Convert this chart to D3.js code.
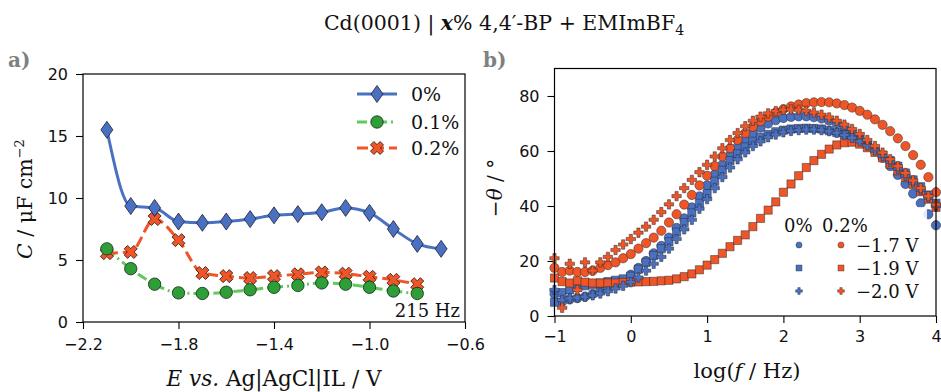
<!DOCTYPE html>
<html><head><meta charset="utf-8">
<script src="https://cdn.jsdelivr.net/npm/d3@7"></script>
<style>body{margin:0;background:#fff} svg{display:block}</style>
</head><body><svg id="c" width="941" height="392"></svg>
<script>
// ---------- Panel a data ----------
const potentialE = [-2.1,-2.0,-1.9,-1.8,-1.7,-1.6,-1.5,-1.4,-1.3,-1.2,-1.1,-1.0,-0.9,-0.8,-0.7];
const cap0  = [15.5,9.35,9.2,8.1,8.0,8.1,8.3,8.6,8.7,8.85,9.2,8.8,7.5,6.3,5.9];
const cap01 = [5.9,4.3,3.05,2.35,2.3,2.4,2.6,2.8,2.95,3.15,3.05,2.8,2.5,2.3];
const cap02 = [5.55,5.65,8.3,6.6,3.95,3.7,3.55,3.7,3.85,4.0,3.9,3.65,3.4,3.05];
const seriesA = ["0%","0.1%","0.2%"];
const aXTicks = [-2.2,-1.8,-1.4,-1.0,-0.6];
const aXTickLabels = ["\u22122.2","\u22121.8","\u22121.4","\u22121.0","\u22120.6"];
const aYTicks = [0,5,10,15,20];
const aYTickLabels = ["0","5","10","15","20"];

// ---------- Panel b data ----------
const logF = [-1.0,-0.9,-0.8,-0.7,-0.6,-0.5,-0.4,-0.3,-0.2,-0.1,0.0,0.1,0.2,0.3,0.4,0.5,0.6,0.7,0.8,0.9,
  1.0,1.1,1.2,1.3,1.4,1.5,1.6,1.7,1.8,1.9,2.0,2.1,2.2,2.3,2.4,2.5,2.6,2.7,2.8,2.9,
  3.0,3.1,3.2,3.3,3.4,3.5,3.6,3.7,3.8,3.9,4.0];
const theta0_17 = [8,5.2,6,6.5,7,8,9,10,11.5,13, 15,17.5,20,22.8,25.5,28.5,32,35.5,39.5,43.5,
  47.5,51.5,55,58.5,61.5,64.2,66.5,68.5,70,71.2, 72,72.4,72.6,72.6,72.3,71.8,71,70,68.7,67,
  65,62.8,60.3,57.5,54.5,51.3,48,44.5,41,37, 33];
const theta02_17 = [17.5,16,16.5,16,16,16.5,17.5,18.5,19.5,21, 22.5,24.5,26.5,28.5,31,34,37,40.5,44,47.5,
  51,54.5,58,61,64,66.5,68.8,70.8,72.5,74, 75.2,76.2,76.9,77.4,77.7,77.8,77.7,77.3,76.7,75.8,
  74.6,73.2,71.5,69.5,67.2,64.6,61.8,58.5,55,50.5, 45];
const theta0_19 = [5,8.5,9.5,10.5,11,11.5,12,12.5,13,13.5, 14.5,17,19.5,22,24.5,27,30.5,34,37.5,41,
  44.5,49,53,56.5,59,61.5,63.5,65,66,67, 67.6,68,68.2,68.3,68.2,68,67.4,66.7,66,65,
  63.8,62.5,60.5,58.5,56.5,54.5,52,49.5,47,44, 41];
const theta02_19 = [13.8,12.5,12,12.8,12.3,12,12,12,12,12.2, 12.3,12.4,12.5,12.6,12.8,13,13.5,14.3,15.3,16.8,
  18.5,20.5,22.8,25.2,27.5,29.5,32.5,35.5,38.5,41.5, 45,48,51,54,56.5,58.8,60.7,62.2,63,63.2,
  62.5,61.2,59.5,57.5,55.2,52.8,50.3,47.8,45.2,42.5, 39.5];
const theta0_20 = [9.5,5.8,6.4,6.7,7,7.5,8.2,9,10,11, 12.3,14,16.5,19,21.5,24.5,28,31.5,35,39,
  42.5,46.5,50.5,54,57,59.5,61.8,63.5,65,66, 66.8,67.3,67.6,67.8,67.8,67.6,67.2,66.6,65.8,64.8,
  63.5,62,60.2,58.2,56,53.5,51,48.5,45.8,43, 40];
const theta02_20 = [21,3,19,9.5,19.5,16.5,19.5,21.5,24,26, 28,30.3,32.5,35,37.8,40.6,43.6,46.5,49.5,52.3,
  55,58,61,64,66.5,69,71,72.5,73.7,74.5, 75,75.1,75,74.6,74,73.2,72.2,71,69.6,68,
  66.2,64,61.8,59.4,57,54.5,52,49.3,46.5,43.6, 40.5];
const potentialLabels = ["\u22121.7 V","\u22121.9 V","\u22122.0 V"];
const bXTicks = [-1,0,1,2,3,4];
const bXTickLabels = ["\u22121","0","1","2","3","4"];
const bYTicks = [0,20,40,60,80];
const bYTickLabels = ["0","20","40","60","80"];

// ---------- styles ----------
const BLUE = "#4a70c2", RED = "#f05528", GREEN_F = "#2e9e38", GREEN_L = "#62c95e";
const SERIF = "'DejaVu Serif', serif", SANS = "'DejaVu Sans', sans-serif";

const svg = d3.select("#c");
svg.append("rect").attr("width",941).attr("height",392).attr("fill","#fff");

// ---------- scales ----------
const xA = d3.scaleLinear().domain([-2.2,-0.6]).range([83,465]);
const yA = d3.scaleLinear().domain([0,20]).range([322,74]);
const xB = d3.scaleLinear().domain([-1,4]).range([554.5,936]);
const yB = d3.scaleLinear().domain([0,90]).range([316,68.5]);

function styleAxis(g){
  g.select(".domain").remove();
  g.selectAll(".tick line").attr("stroke","#000").attr("stroke-width",1.1);
  g.selectAll(".tick text").attr("font-family",SANS).attr("font-size",16).attr("fill","#111");
}

// ---------- marker shapes ----------
function plusPath(L,t){
  return `M${-t},${-L}L${t},${-L}L${t},${-t}L${L},${-t}L${L},${t}L${t},${t}L${t},${L}L${-t},${L}L${-t},${t}L${-L},${t}L${-L},${-t}L${-t},${-t}Z`;
}
const diamondPath = "M0,-8.5L6,0L0,8.5L-6,0Z";

// ================= Panel a =================
const gA = svg.append("g");
gA.append("g").attr("transform","translate(83,0)")
  .call(d3.axisLeft(yA).tickValues(aYTicks).tickFormat((d,i)=>aYTickLabels[i]).tickSize(7).tickPadding(8))
  .call(styleAxis);
gA.append("g").attr("transform","translate(0,322)")
  .call(d3.axisBottom(xA).tickValues(aXTicks).tickFormat((d,i)=>aXTickLabels[i]).tickSize(7).tickPadding(10))
  .call(styleAxis);

const lineA = (vals) => d3.line().x((d,i)=>xA(potentialE[i])).y(d=>yA(d)).curve(d3.curveMonotoneX)(vals);

gA.append("path").attr("d",lineA(cap0)).attr("fill","none").attr("stroke",BLUE).attr("stroke-width",3);
gA.append("path").attr("d",lineA(cap01)).attr("fill","none").attr("stroke",GREEN_L).attr("stroke-width",3)
  .attr("stroke-dasharray","10,4,2,4");
gA.append("path").attr("d",lineA(cap02)).attr("fill","none").attr("stroke",RED).attr("stroke-width",3)
  .attr("stroke-dasharray","11,5");

const xMarkA = plusPath(6.8,2.4);
gA.selectAll(".m02").data(cap02).join("path")
  .attr("d",xMarkA).attr("transform",(d,i)=>`translate(${xA(potentialE[i])},${yA(d)}) rotate(45)`)
  .attr("fill",RED).attr("stroke","#3a1a10").attr("stroke-width",0.8);
gA.selectAll(".m01").data(cap01).join("circle")
  .attr("cx",(d,i)=>xA(potentialE[i])).attr("cy",d=>yA(d)).attr("r",6.2)
  .attr("fill",GREEN_F).attr("stroke","#142a14").attr("stroke-width",0.8);
gA.selectAll(".m0").data(cap0).join("path")
  .attr("d",diamondPath).attr("transform",(d,i)=>`translate(${xA(potentialE[i])},${yA(d)})`)
  .attr("fill",BLUE).attr("stroke","#1a1f33").attr("stroke-width",0.8);

gA.append("rect").attr("x",83).attr("y",74).attr("width",382).attr("height",248)
  .attr("fill","none").attr("stroke","#000").attr("stroke-width",1.2);

// legend a
const legA = gA.append("g");
const legRowsA = [94,122,148];
[[BLUE,null,"d"],[GREEN_L,"10,4,2,4","c"],[RED,"11,5","x"]].forEach((s,i)=>{
  const y = legRowsA[i];
  legA.append("line").attr("x1",357).attr("x2",397).attr("y1",y).attr("y2",y)
    .attr("stroke",s[0]).attr("stroke-width",3).attr("stroke-dasharray",s[1]);
  if(s[2]==="d") legA.append("path").attr("d",diamondPath).attr("transform",`translate(377,${y})`)
      .attr("fill",BLUE).attr("stroke","#1a1f33").attr("stroke-width",0.8);
  if(s[2]==="c") legA.append("circle").attr("cx",377).attr("cy",y).attr("r",6.2)
      .attr("fill",GREEN_F).attr("stroke","#142a14").attr("stroke-width",0.8);
  if(s[2]==="x") legA.append("path").attr("d",xMarkA).attr("transform",`translate(377,${y}) rotate(45)`)
      .attr("fill",RED).attr("stroke","#3a1a10").attr("stroke-width",0.8);
  legA.append("text").attr("x",411).attr("y",y+7).text(seriesA[i])
    .attr("font-family",SERIF).attr("font-size",19).attr("fill","#111");
});
gA.append("text").attr("x",460).attr("y",317).attr("text-anchor","end").text("215 Hz")
  .attr("font-family",SERIF).attr("font-size",18).attr("fill","#111");

// axis labels a
const xla = gA.append("text").attr("x",274).attr("y",386).attr("text-anchor","middle")
  .attr("font-family",SERIF).attr("font-size",21.5).attr("fill","#111");
xla.append("tspan").attr("font-style","italic").text("E");
xla.append("tspan").text(" ");
xla.append("tspan").attr("font-style","italic").text("vs.");
xla.append("tspan").text(" Ag|AgCl|IL / V");
const yla = gA.append("text").attr("transform","translate(32,199) rotate(-90)").attr("text-anchor","middle")
  .attr("font-family",SERIF).attr("font-size",20.5).attr("fill","#111");
yla.append("tspan").attr("font-style","italic").text("C");
yla.append("tspan").text(" / \u03bcF cm");
yla.append("tspan").attr("font-size",13).attr("dy",-8).text("\u22122");

// ================= Panel b =================
const gB = svg.append("g");
gB.append("g").attr("transform","translate(554.5,0)")
  .call(d3.axisLeft(yB).tickValues(bYTicks).tickFormat((d,i)=>bYTickLabels[i]).tickSize(7).tickPadding(8))
  .call(styleAxis);
gB.append("g").attr("transform","translate(0,316)")
  .call(d3.axisBottom(xB).tickValues(bXTicks).tickFormat((d,i)=>bXTickLabels[i]).tickSize(7).tickPadding(8))
  .call(styleAxis);

const plusB = plusPath(4.7,1.6);
function scatter(vals,shape,color){
  const g = gB.append("g");
  const sel = g.selectAll("path").data(vals).join("path")
    .attr("fill",color).attr("stroke","#2a2a2a").attr("stroke-width",0.5)
    .attr("transform",(d,i)=>`translate(${xB(logF[i])},${yB(d)})`);
  if(shape==="circle") sel.attr("d",d3.symbol(d3.symbolCircle,68)());
  if(shape==="square") sel.attr("d","M-4.1,-4.1H4.1V4.1H-4.1Z");
  if(shape==="plus") sel.attr("d",plusB);
}
scatter(theta0_17,"circle",BLUE);
scatter(theta02_17,"circle",RED);
scatter(theta0_19,"square",BLUE);
scatter(theta02_19,"square",RED);
scatter(theta0_20,"plus",BLUE);
scatter(theta02_20,"plus",RED);

gB.append("rect").attr("x",554.5).attr("y",68.5).attr("width",381.5).attr("height",247.5)
  .attr("fill","none").attr("stroke","#000").attr("stroke-width",1.2);

// legend b
const legB = gB.append("g");
legB.append("rect").attr("x",777).attr("y",207).attr("width",150).attr("height",95)
  .attr("fill","#fff").attr("fill-opacity",0.85);
legB.append("text").attr("x",784).attr("y",232).text("0%")
  .attr("font-family",SERIF).attr("font-size",18).attr("fill","#111");
legB.append("text").attr("x",822).attr("y",232).text("0.2%")
  .attr("font-family",SERIF).attr("font-size",18).attr("fill","#111");
const legRowsB = [245,268,291];
["circle","square","plus"].forEach((sh,i)=>{
  const y = legRowsB[i];
  [[799,BLUE],[841,RED]].forEach(([x,c])=>{
    const p = legB.append("path").attr("transform",`translate(${x},${y})`)
      .attr("fill",c).attr("stroke","#2a2a2a").attr("stroke-width",0.4);
    if(sh==="circle") p.attr("d",d3.symbol(d3.symbolCircle,30)());
    if(sh==="square") p.attr("d","M-3,-3H3V3H-3Z");
    if(sh==="plus") p.attr("d",plusPath(3.4,1.2));
  });
  legB.append("text").attr("x",856).attr("y",y+7).text(potentialLabels[i])
    .attr("font-family",SERIF).attr("font-size",18).attr("fill","#111");
});

// axis labels b
const xlb = gB.append("text").attr("x",747).attr("y",378).attr("text-anchor","middle")
  .attr("font-family",SERIF).attr("font-size",21).attr("fill","#111");
xlb.append("tspan").text("log(");
xlb.append("tspan").attr("font-style","italic").text("f");
xlb.append("tspan").text(" / Hz)");
const ylb = gB.append("text").attr("transform","translate(502,188) rotate(-90)").attr("text-anchor","middle")
  .attr("font-family",SERIF).attr("font-size",20).attr("fill","#111");
ylb.append("tspan").text("\u2212");
ylb.append("tspan").attr("font-style","italic").text("\u03b8");
ylb.append("tspan").text(" / \u00b0");

// ---------- title & panel letters ----------
const t = svg.append("text").attr("x",504).attr("y",30).attr("text-anchor","middle")
  .attr("font-family",SERIF).attr("font-size",20.5).attr("fill","#111");
t.append("tspan").text("Cd(0001) | ");
t.append("tspan").attr("font-weight","bold").attr("font-style","italic").text("x");
t.append("tspan").text("% 4,4\u2032-BP + EMImBF");
t.append("tspan").attr("font-size",14).attr("dy",5).text("4");

svg.append("text").attr("x",8).attr("y",67).text("a)")
  .attr("font-family",SERIF).attr("font-weight","bold").attr("font-size",20).attr("fill","#808080");
svg.append("text").attr("x",483).attr("y",67).text("b)")
  .attr("font-family",SERIF).attr("font-weight","bold").attr("font-size",20).attr("fill","#808080");
</script></body></html>
